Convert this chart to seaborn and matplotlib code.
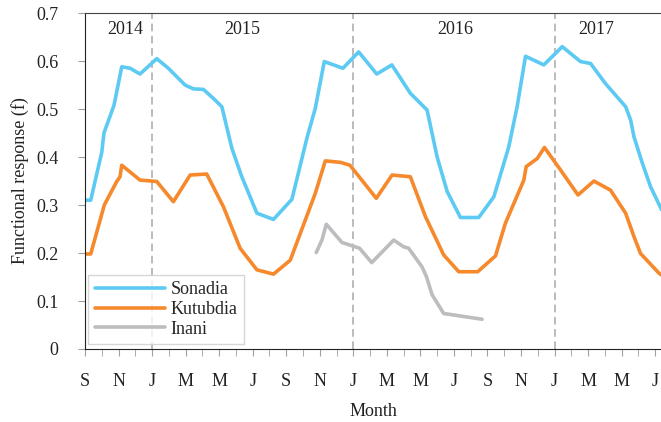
import pandas as pd
import matplotlib.pyplot as plt
import seaborn as sns

# month index: 0 = Sep 2014
sonadia_x = [0, 0.34, 1.0, 1.13, 1.73, 2.19, 2.69, 3.28, 4.28, 4.97, 5.97, 6.47, 7.06, 7.66, 8.16,
             8.76, 9.35, 10.25, 11.24, 12.34, 13.23, 13.73, 14.27, 15.38, 16.32, 17.4, 18.3, 19.4,
             20.4, 21.0, 21.6, 22.39, 23.48, 24.38, 25.27, 25.77, 26.27, 27.36, 28.46, 29.55,
             30.15, 31.04, 32.24, 32.54, 32.74, 33.24, 33.73, 34.39]
sonadia_f = [0.31, 0.31, 0.41, 0.45, 0.508, 0.588, 0.585, 0.573, 0.605, 0.585, 0.55, 0.542, 0.541,
             0.522, 0.505, 0.418, 0.359, 0.283, 0.27, 0.312, 0.439, 0.501, 0.599, 0.585, 0.619,
             0.573, 0.592, 0.533, 0.498, 0.40, 0.328, 0.274, 0.274, 0.317, 0.421, 0.505, 0.61,
             0.592, 0.63, 0.599, 0.595, 0.553, 0.505, 0.477, 0.442, 0.387, 0.338, 0.29]

kutubdia_x = [0, 0.34, 1.15, 1.89, 2.09, 2.19, 3.28, 4.28, 5.27, 6.27, 7.26, 8.26, 9.25, 10.25,
              11.24, 12.24, 13.73, 14.33, 15.22, 15.8, 17.37, 18.31, 19.4, 20.3, 21.39, 22.29,
              23.42, 24.48, 25.07, 26.17, 26.31, 26.97, 27.4, 28.36, 29.4, 30.35, 31.34, 32.24,
              32.74, 33.13, 34.23, 34.39]
kutubdia_f = [0.198, 0.198, 0.30, 0.349, 0.359, 0.383, 0.352, 0.349, 0.307, 0.3625, 0.3646, 0.296,
              0.21, 0.165, 0.156, 0.185, 0.324, 0.392, 0.389, 0.383, 0.314, 0.3625, 0.359, 0.276,
              0.196, 0.161, 0.161, 0.194, 0.262, 0.352, 0.38, 0.397, 0.42, 0.373, 0.321, 0.35,
              0.331, 0.283, 0.234, 0.199, 0.158, 0.154]

inani_x = [13.79, 14.13, 14.39, 15.32, 16.37, 17.1, 18.41, 19.0, 19.3, 20.1, 20.36, 20.7, 21.39, 23.68]
inani_f = [0.201, 0.227, 0.26, 0.222, 0.21, 0.18, 0.227, 0.213, 0.21, 0.171, 0.151, 0.113, 0.074, 0.062]

month_labels = ["S", "N", "J", "M", "M", "J"] * 3
years = ["2014", "2015", "2016", "2017"]
year_pos = [2.4, 9.4, 22.1, 30.5]
new_year = [4, 16, 28]

sites = {
    "Sonadia": (sonadia_x, sonadia_f, "#5ccaf2"),
    "Kutubdia": (kutubdia_x, kutubdia_f, "#f5892c"),
    "Inani": (inani_x, inani_f, "#bdbdc0"),
}

sns.set_style("ticks")
plt.rcParams["font.family"] = ["Liberation Serif", "DejaVu Serif"]

fig = plt.figure(figsize=(6.61, 4.22), dpi=100)
ax = fig.add_axes([0.1286, 0.173, 0.8714, 0.796])

for name, (xs, fs, col) in sites.items():
    df = pd.DataFrame({"month": xs, "f": fs})
    sns.lineplot(data=df, x="month", y="f", ax=ax, color=col, lw=2.6,
                 sort=False, estimator=None, label=name)

for m in new_year:
    ax.axvline(m, color="#a8a8a8", ls=(0, (5, 3)), lw=1.1, zorder=0)

for y, p in zip(years, year_pos):
    ax.text(p, 0.665, y, ha="center", va="center", fontsize=13, color="#222222")

ax.set_xlim(0, 34.35)
ax.set_ylim(0, 0.7)
ax.set_xticks(range(0, 35, 2))
ax.set_xticklabels(month_labels, fontsize=13, color="#222222")
ax.set_xticks(range(0, 35), minor=True)
ax.set_yticks([i / 10 for i in range(8)])
ax.set_yticklabels(["0"] + [f"{i / 10:.1f}" for i in range(1, 8)], fontsize=13, color="#222222")
ax.tick_params(axis="x", which="both", length=5, color="#a0a0a0", pad=12)
ax.tick_params(axis="y", length=5, color="#a0a0a0", pad=14)
ax.set_xlabel("Month", fontsize=13, labelpad=10, color="#222222")
ax.set_ylabel("Functional response (f)", fontsize=13, labelpad=5, color="#222222")

for s in ["left", "bottom"]:
    ax.spines[s].set_color("#222222")
ax.spines["top"].set_visible(True)
ax.spines["top"].set_color("#444444")
ax.spines["right"].set_visible(False)

leg = ax.legend(loc="lower left", bbox_to_anchor=(0.006, 0.015), fontsize=13,
                handlelength=3.9, fancybox=False, edgecolor="#cccccc",
                labelspacing=0.15, borderpad=0.35, handletextpad=0.3, borderaxespad=0)
leg.get_frame().set_linewidth(1.0)

plt.savefig("out.png", dpi=100)
